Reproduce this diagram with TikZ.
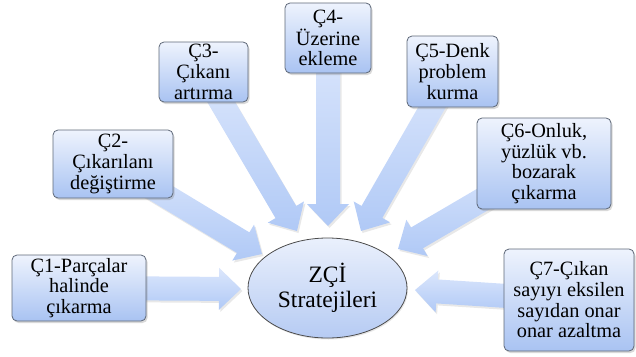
\documentclass[tikz,border=0pt]{standalone}
\usepackage{fontspec}
\setmainfont{Liberation Serif}
\usetikzlibrary{calc,shadows,backgrounds,shapes.geometric}

\definecolor{boxtop}{HTML}{EEF3FD}
\definecolor{boxbot}{HTML}{A9C3F2}
\definecolor{boxline}{HTML}{5E6878}
\definecolor{hubtop}{HTML}{EAF0FC}
\definecolor{hubbot}{HTML}{B6CBF3}
\definecolor{arrtop}{HTML}{DCE7FC}
\definecolor{arrbot}{HTML}{B0C9F6}

% fat arrow from #1 to the tip #2
\newcommand{\blockarrow}[2]{%
  \coordinate (h) at ($(#2)!22pt!(#1)$);
  \path[arrowfill] ($(#1)!12pt!90:(#2)$) -- ($(h)!12pt!90:(#2)$) -- ($(h)!21pt!90:(#2)$)
    -- (#2) -- ($(h)!21pt!-90:(#2)$) -- ($(h)!12pt!-90:(#2)$) -- ($(#1)!12pt!-90:(#2)$) -- cycle;}

\begin{document}
\begin{tikzpicture}[x=1pt,y=-1pt]

      \tikzset{strategy/.style={draw=boxline, line width=0.8pt, rounded corners=5pt, top color=boxtop, bottom color=boxbot,
                 align=center, inner sep=0pt, font=\fontsize{20.3}{20.7}\selectfont,
                 drop shadow={opacity=0.3, shadow xshift=1.5pt, shadow yshift=-2pt}},
               hub/.style={draw=black!70, line width=0.8pt, ellipse, top color=hubtop, bottom color=hubbot,
                 align=center, inner sep=0pt, font=\fontsize{23.5}{25}\selectfont,
                 drop shadow={opacity=0.2, shadow xshift=1pt, shadow yshift=-1.5pt}},
               arrowfill/.style={top color=arrtop, bottom color=arrbot,
                 drop shadow={opacity=0.18, shadow xshift=1.5pt, shadow yshift=-2pt}}}

      \useasboundingbox (0,0) rectangle (636,356);
%% Strategies
      	\node[hub, minimum width=159pt, minimum height=100pt] (z) at (327.5,288) {ZÇİ\\Stratejileri};
      	\node[strategy, minimum width=134pt, minimum height=66pt] (c1) at (79,288) {Ç1-Parçalar\\halinde\\çıkarma};
      	\node[strategy, minimum width=120pt, minimum height=68pt] (c2) at (113,164) {Ç2-\\Çıkarılanı\\değiştirme};
      	\node[strategy, minimum width=89pt, minimum height=60pt] (c3) at (203.5,72) {Ç3-\\Çıkanı\\artırma};
      	\node[strategy, minimum width=86pt, minimum height=70pt] (c4) at (328,38) {Ç4-\\Üzerine\\ekleme};
      	\node[strategy, minimum width=91pt, minimum height=71pt] (c5) at (452.5,71.5) {Ç5-Denk\\problem\\kurma};
      	\node[strategy, minimum width=134pt, minimum height=91pt] (c6) at (544,163.5) {Ç6-Onluk,\\yüzlük vb.\\bozarak\\çıkarma};
      	\node[strategy, minimum width=130pt, minimum height=102pt] (c7) at (569,300) {Ç7-Çıkan\\sayıyı eksilen\\sayıdan onar\\onar azaltma};

%Arrow tips
      	\coordinate (t1) at (241,289);
      	\coordinate (t2) at (262,254);
      	\coordinate (t3) at (297,231);
      	\coordinate (t4) at (328,226);
      	\coordinate (t5) at (361,231);
      	\coordinate (t6) at (398,249);
      	\coordinate (t7) at (415,290);

%Arrows
      \begin{pgfonlayer}{background}
		\blockarrow{c1.center}{t1}
		\blockarrow{c2.center}{t2}
		\blockarrow{c3.center}{t3}
		\blockarrow{c4.center}{t4}
		\blockarrow{c5.center}{t5}
		\blockarrow{c6.center}{t6}
		\blockarrow{c7.center}{t7}
      \end{pgfonlayer}
	\end{tikzpicture}
\end{document}
